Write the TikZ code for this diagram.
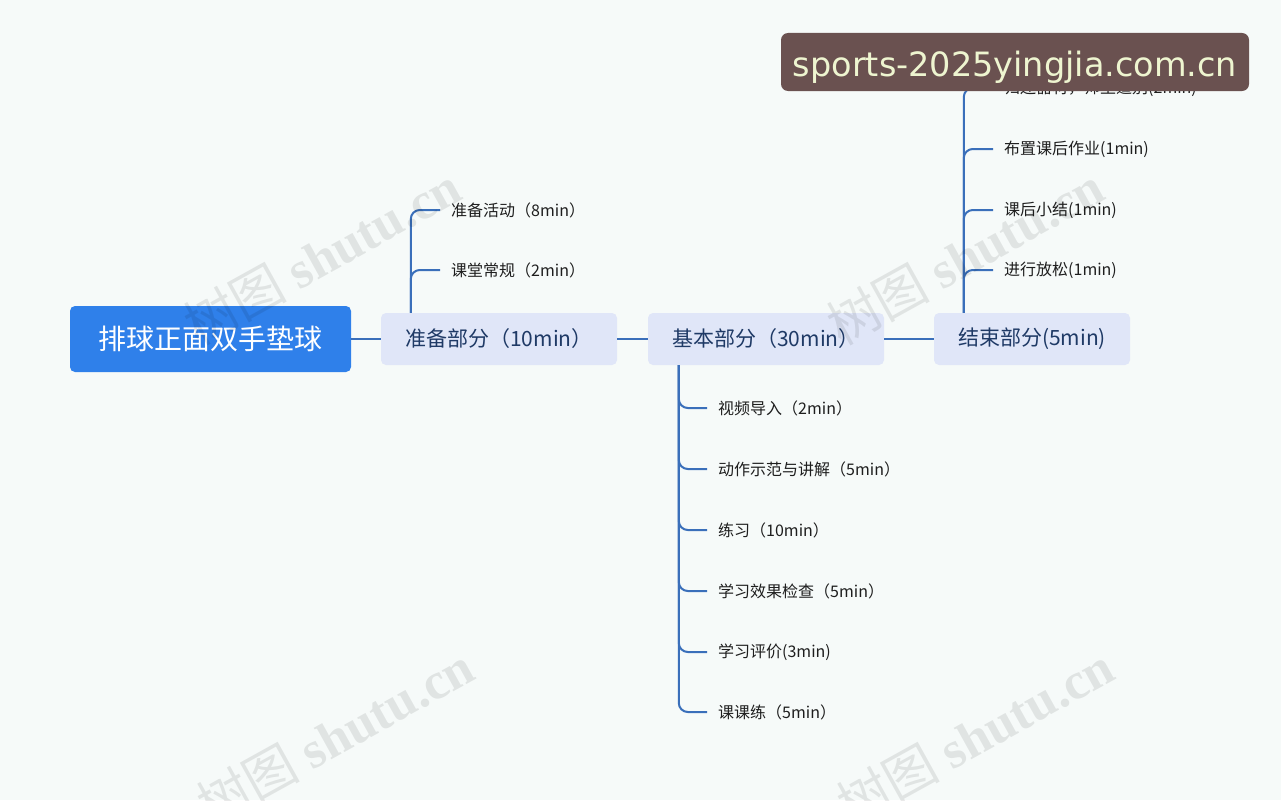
\documentclass[tikz,border=0pt]{standalone}
\usepackage{fontspec}
\setmainfont{Noto Sans CJK SC}
\newfontfamily\wmserif{Liberation Serif}
\newfontfamily\bannerfont{DejaVu Sans}
\usetikzlibrary{calc}
\definecolor{bg}{HTML}{F6FAF9}
\definecolor{rootblue}{HTML}{2F80EA}
\definecolor{lineblue}{HTML}{3A6FBA}
\definecolor{lvlfill}{HTML}{E0E6F8}
\definecolor{lvltext}{HTML}{1F3A66}
\definecolor{leaftext}{HTML}{1E1E1E}
\definecolor{bannerbg}{HTML}{6A5150}
\definecolor{bannertext}{HTML}{EEF5D0}
\begin{document}
\begin{tikzpicture}[x=1pt,y=-1pt,
  conn/.style={draw=lineblue, line width=2pt, rounded corners=9pt},
  rootbox/.style={fill=rootblue, rounded corners=5pt, minimum width=281pt, minimum height=66pt, text=white, font=\fontsize{28}{31}\selectfont},
  lvlbox/.style={fill=lvlfill, rounded corners=5pt, minimum height=52pt, text=lvltext, font=\fontsize{21}{24}\selectfont},
  leaf/.style={anchor=west, inner xsep=11pt, inner ysep=2pt, text=leaftext, font=\fontsize{16}{19}\selectfont},
  wm/.style={text=black, opacity=0.085, rotate=29, font=\fontsize{52}{56}\selectfont}]
\useasboundingbox (0,0) rectangle (1281,800);
\fill[bg] (0,0) rectangle (1281,800);

% main nodes
\node[rootbox] (root) at (210.5,339) {排球正面双手垫球};
\node[lvlbox, minimum width=236pt] (p1) at (499,339) {准备部分（10min）};
\node[lvlbox, minimum width=236pt] (p2) at (766,339) {基本部分（30min）};
\node[lvlbox, minimum width=196pt] (p3) at (1032,339) {结束部分(5min)};

\draw[conn] (root.east) -- (p1.west);
\draw[conn] (p1.east) -- (p2.west);
\draw[conn] (p2.east) -- (p3.west);

% spines
\coordinate (s1) at ($(p1.north west)+(30,0)$);
\coordinate (s2) at ($(p2.south west)+(31,0)$);
\coordinate (s3) at ($(p3.north west)+(30,0)$);

% leaves of p1
\node[leaf] (a1) at (440,210) {准备活动（8min）};
\node[leaf] (a2) at (440,270) {课堂常规（2min）};
\foreach \n in {a1,a2} \draw[conn] (s1) |- (\n.west);

% leaves of p2
\node[leaf] (b1) at (707,408) {视频导入（2min）};
\node[leaf] (b2) at (707,469) {动作示范与讲解（5min）};
\node[leaf] (b3) at (707,530) {练习（10min）};
\node[leaf] (b4) at (707,591) {学习效果检查（5min）};
\node[leaf] (b5) at (707,652) {学习评价(3min)};
\node[leaf] (b6) at (707,712) {课课练（5min）};
\foreach \n in {b1,b2,b3,b4,b5,b6} \draw[conn] (s2) |- (\n.west);

% leaves of p3
\node[leaf] (c1) at (993,88) {归还器材，师生道别(2min)};
\node[leaf] (c2) at (993,149) {布置课后作业(1min)};
\node[leaf] (c3) at (993,210) {课后小结(1min)};
\node[leaf] (c4) at (993,270) {进行放松(1min)};
\foreach \n in {c1,c2,c3,c4} \draw[conn] (s3) |- (\n.west);

% watermarks
\node[wm] (w1) at (322,255) {树图 {\wmserif\bfseries shutu.cn}};
\node[wm] (w2) at (965,255) {树图 {\wmserif\bfseries shutu.cn}};
\node[wm] (w3) at (335,735) {树图 {\wmserif\bfseries shutu.cn}};
\node[wm] (w4) at (975,735) {树图 {\wmserif\bfseries shutu.cn}};

% banner
\node[fill=bannerbg, rounded corners=7pt, minimum width=468pt, minimum height=58pt, inner sep=0pt] (banner) at (1015,62) {};
\node[text=bannertext, inner sep=0pt, font=\bannerfont\fontsize{33.5}{36}\selectfont] (bannerlabel) at ($(banner.center)+(0,5)$) {sports-2025yingjia.com.cn};
\end{tikzpicture}
\end{document}
